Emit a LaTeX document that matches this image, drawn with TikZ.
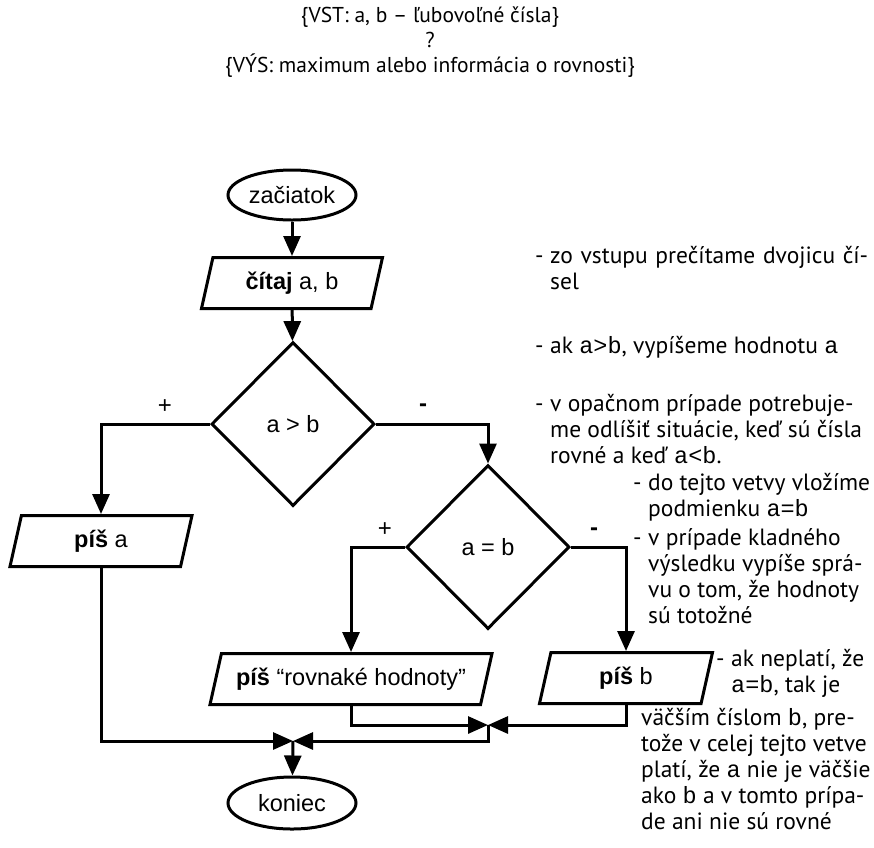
\documentclass[tikz,border=0pt]{standalone}
\usepackage{fontspec}
\setmainfont{PT Sans}
\newfontfamily\arialf{Liberation Sans}
\setmonofont{Liberation Mono}
\usetikzlibrary{positioning,shapes.geometric,arrows.meta}

\newcommand{\kod}[1]{\texttt{#1}}
\newcommand{\pom}{\makebox[15pt][l]{-}}
\newcommand{\odsad}{\hspace*{15pt}}
\newcommand{\riadok}[1]{\makebox[318pt][s]{#1}}

\begin{document}
\begin{tikzpicture}[x=1pt, y=-1pt,
  every node/.style={font=\arialf\fontsize{23.5}{27}\selectfont},
  krok/.style={draw, line width=3pt, inner sep=0pt},
  okraj/.style={krok, ellipse, minimum width=128pt, minimum height=50pt},
  vstup/.style={krok, trapezium, trapezium left angle=63, trapezium right angle=117, trapezium stretches body, minimum height=51pt},
  podm/.style={krok, diamond, minimum width=163pt, minimum height=164pt},
  sip/.style={line width=3pt, -{Triangle[length=20pt,width=17pt]}},
  znak/.style={font=\arialf\fontsize{24}{24}\selectfont},
  pozn/.style={anchor=north west, align=left, inner sep=0pt, font=\fontsize{23.5}{26}\selectfont},
  hlava/.style={align=center, inner sep=0pt, font=\fontsize{21.5}{25}\selectfont}
]
\useasboundingbox (0,0) rectangle (874,847);

% zadanie
\node[hlava] (zad) at (430,42) {\{VST: a, b – ľubovoľné čísla\}\\?\\\{VÝS: maximum alebo informácia o rovnosti\}};

% vyvojovy diagram
\node[okraj] (start) at (292,195) {začiatok};
\node[vstup, minimum width=181pt] (cit) at (292,283) {\textbf{čítaj} a, b};
\node[podm] (d1) at (293,424) {a > b};
\node[vstup, minimum width=182pt] (pisa) at (101,541) {\textbf{píš} a};
\node[podm] (d2) at (488,547) {a = b};
\node[vstup, minimum width=282pt] (rovn) at (351,679) {\textbf{píš} “rovnaké hodnoty”};
\node[vstup, minimum width=173pt] (pisb) at (626,678) {\textbf{píš} b};
\node[okraj, minimum height=52pt] (end) at (292,803) {koniec};
\coordinate (j2) at (488,725);
\coordinate (j1) at (293,741);

% vetvy
\node[znak] (plus1) at (165,407) {+};
\node[znak] (minus1) at (423,408) {\textbf{-}};
\node[znak] (plus2) at (385,530) {+};
\node[znak] (minus2) at (594,532) {\textbf{-}};

\draw[sip] (start) -- (cit);
\draw[sip] (cit) -- (d1);
\draw[sip] (d1.west) -| (pisa.north);
\draw[sip] (d1.east) -| (d2.north);
\draw[sip] (d2.west) -| (rovn.north);
\draw[sip] (d2.east) -| (pisb.north);
\draw[sip] (rovn.south) |- (j2);
\draw[sip] (pisb.south) |- (j2);
\draw[sip] (j2) |- (j1);
\draw[sip] (pisa.south) |- (j1);
\draw[sip] (j1) -- (end);

% poznamky
\node[pozn] (p1) at (535,246) {\pom\riadok{zo vstupu prečítame dvojicu čí-}\\\odsad sel};
\node[pozn] (p2) at (535,336) {\pom ak \kod{a>b}, vypíšeme hodnotu \kod{a}};
\node[pozn] (p3) at (535,394) {\pom v opačnom prípade potrebuje-\\\odsad me odlíšiť situácie, keď sú čísla\\\odsad rovné a keď \kod{a<b}.};
\node[pozn] (p4) at (633,473) {\pom do tejto vetvy vložíme\\\odsad podmienku \kod{a=b}};
\node[pozn] (p5) at (633,528) {\pom v prípade kladného\\\odsad výsledku vypíše sprá-\\\odsad vu o tom, že hodnoty\\\odsad sú totožné};
\node[pozn] (p6) at (716,649) {\pom ak neplatí, že\\\odsad \kod{a=b}, tak je};
\node[pozn] (p7) at (641,708) {väčším číslom \kod{b}, pre-\\tože v celej tejto vetve\\platí, že \kod{a} nie je väčšie\\ako \kod{b} a v tomto prípa-\\de ani nie sú rovné};
\end{tikzpicture}
\end{document}
